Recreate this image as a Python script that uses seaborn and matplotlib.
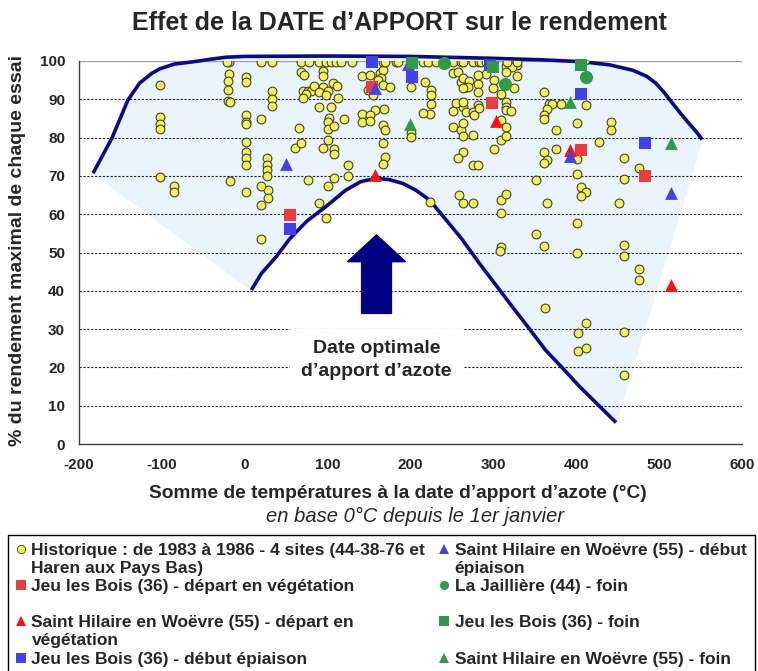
import matplotlib
matplotlib.use("Agg")
import matplotlib.pyplot as plt
from matplotlib.lines import Line2D
import numpy as np
import pandas as pd
import seaborn as sns

# --- data ---
# Historique 1983-1986 (yellow circles)
hist_x = [-102, -102, -102, -102, -102, -85, -85,
          -19, -21, -19, -20, -20, -20, -18, -18,
          1, 1, 1, 1, 1, 1, 1, 1, 1, 1,
          20, 33, 33, 33, 33, 20, 27, 27, 27, 27, 28, 28, 20, 20, 20,
          61, 66, 68, 68, 78, 68, 72, 70, 76, 80, 74, 70, 76,
          90, 98, 104, 110, 116, 94, 94, 84, 95, 107, 111, 90, 100, 98, 112,
          90, 104, 102, 100, 100, 108, 120, 100, 94, 108, 108, 125, 125, 108,
          100, 90, 98,
          130, 141, 151, 163, 167, 165, 161, 167, 175, 149, 155, 157, 168,
          167, 169, 183, 185, 141, 141, 151, 151, 167, 169, 167, 169, 167,
          201, 201, 201, 215, 221, 231, 251, 261, 263, 275, 283, 285, 291,
          217, 225, 225, 225, 223, 215, 251, 257, 261, 267, 263, 251, 267, 255,
          251, 261, 263, 263, 275, 224, 263, 257, 275, 281, 259, 263, 275,
          263, 271, 269, 281, 281, 291, 301, 299, 309, 263, 281,
          281, 275, 277, 283, 263, 315, 329, 329, 325, 323, 317, 329, 315,
          315, 315, 315, 321, 309, 315, 301, 309, 315,
          309, 315, 309, 309, 308,
          361, 367, 371, 381, 365, 361, 361, 412, 401, 375, 442, 442,
          375, 361, 365, 361, 401, 427, 458, 476,
          351, 401, 458, 406, 412, 406,
          365, 451, 401, 351, 361, 401, 458, 458, 476, 476,
          362, 412, 402, 402, 412, 458, 458, 411]
hist_y = [93.7, 85.5, 83.6, 82.2, 69.6, 67.4, 65.8,
          99.8, 99.8, 96.7, 94.7, 92.5, 89.6, 89.3, 68.7,
          95.8, 94.4, 86.0, 84.2, 83.6, 78.9, 76.3, 74.8, 72.8, 65.8,
          99.8, 99.8, 92.2, 90.1, 88.3, 84.8, 74.6, 72.8, 71.5, 70.0, 66.3, 64.1, 67.4, 62.4, 53.5,
          77.4, 82.6, 78.5, 99.8, 99.8, 97.1, 96.4, 92.1, 92.1, 92.2, 91.3, 90.3, 68.9,
          99.8, 99.8, 99.8, 99.8, 99.8, 97.3, 96.2, 93.5, 93.3, 94.3, 93.6, 91.9, 92.1, 91.0, 90.4,
          88.0, 88.0, 85.1, 84.2, 82.2, 82.9, 84.9, 79.5, 77.4, 77.0, 75.6, 72.8, 70.0, 69.5,
          67.4, 62.8, 58.9,
          99.8, 96.0, 96.3, 96.8, 97.6, 95.5, 95.0, 93.7, 93.2, 92.4, 91.0, 87.2, 87.5,
          99.8, 99.8, 99.8, 99.8, 86.1, 84.2, 86.0, 84.3, 83.3, 82.0, 78.5, 75.0, 73.1,
          93.2, 81.2, 80.1, 99.8, 99.8, 99.8, 99.8, 99.8, 99.8, 99.8, 99.8, 99.8, 99.8,
          94.4, 92.3, 91.0, 88.8, 86.2, 86.4, 96.9, 97.1, 94.5, 93.2, 88.0, 86.9, 86.7, 89.0,
          82.8, 82.0, 83.9, 80.5, 80.7, 63.3, 76.3, 74.6, 72.8, 72.8, 65.0, 62.8, 62.8,
          95.6, 94.7, 93.2, 94.1, 91.9, 96.7, 95.0, 93.0, 91.5, 93.0, 96.3,
          88.4, 86.7, 85.8, 87.6, 89.3, 98.7, 98.9, 96.1, 93.0, 98.5, 99.8, 99.8, 97.0,
          89.3, 88.0, 87.1, 86.9, 84.6, 82.7, 77.0, 79.4, 80.4,
          63.7, 65.3, 60.2, 51.5, 50.5,
          92.0, 88.9, 88.9, 88.9, 87.4, 86.0, 84.8, 88.4, 83.9, 82.0, 84.0, 82.0,
          77.0, 76.3, 74.2, 73.3, 74.3, 78.9, 74.8, 72.0,
          68.9, 70.4, 69.1, 67.0, 65.9, 64.8,
          62.8, 62.8, 57.8, 54.8, 51.6, 49.8, 52.0, 49.1, 45.8, 42.8,
          35.6, 31.5, 29.1, 24.4, 25.0, 29.2, 18.0, 100.2]

# Jeu les Bois (36) - depart en vegetation
jeu_dep_x = [54, 154, 298, 406, 483]
jeu_dep_y = [59.8, 93.2, 89.0, 76.8, 70.0]
# Saint Hilaire en Woevre (55) - depart en vegetation
sh_dep_x = [157, 303, 392, 514]
sh_dep_y = [70.2, 84.3, 76.8, 41.5]
# Jeu les Bois (36) - debut epiaison
jeu_epi_x = [54, 154, 202, 296, 406, 483]
jeu_epi_y = [56.1, 99.7, 95.8, 99.0, 91.4, 78.7]
# Saint Hilaire en Woevre (55) - debut epiaison
sh_epi_x = [50, 157, 197, 392, 514]
sh_epi_y = [73.1, 93.0, 99.3, 75.2, 65.6]
# La Jailliere (44) - foin
jail_x = [240, 314, 412]
jail_y = [99.5, 93.9, 95.7]
# Jeu les Bois (36) - foin
jeu_foin_x = [202, 300, 406]
jeu_foin_y = [99.5, 98.4, 99.0]
# Saint Hilaire en Woevre (55) - foin
sh_foin_x = [199, 392, 514]
sh_foin_y = [83.5, 89.2, 78.5]

# envelope curves
outer_x = [-183, -160, -141, -127, -112, -102, -85, -62, -40, -22, 0, 100, 200,
           300, 360, 408, 440, 468, 485, 496, 506, 516, 526, 536, 545, 552]
outer_y = [70.7, 80.0, 89.8, 94.2, 96.8, 98.0, 99.2, 99.8, 100.5, 101.0, 101.2,
           101.3, 101.2, 100.7, 100.3, 99.8, 99.0, 97.6, 96.0, 94.2, 91.8, 89.0,
           86.3, 83.7, 81.5, 79.5]
inner_x = [8, 20, 38, 54, 75, 98, 122, 140, 159, 175, 191, 207, 223, 243, 262,
           283, 303, 323, 343, 363, 384, 404, 426, 448]
inner_y = [40.2, 44.5, 48.9, 53.5, 58.2, 62.0, 66.3, 68.5, 69.4, 69.0, 68.0, 66.2,
           63.7, 58.5, 53.5, 47.2, 41.5, 35.8, 30.2, 24.5, 19.7, 15.0, 10.3, 5.6]

x_ticks = [-200, -100, 0, 100, 200, 300, 400, 500, 600]
y_ticks = [0, 10, 20, 30, 40, 50, 60, 70, 80, 90, 100]

NAVY = "#0a0a8c"
YELLOW = "#f4f44c"

sns.set_theme(style="white")
plt.rcParams["font.family"] = ["Liberation Sans", "DejaVu Sans"]
plt.rcParams["axes.unicode_minus"] = False

fig = plt.figure(figsize=(7.58, 6.71), dpi=100)
ax = fig.add_axes([79 / 758, 1 - 444 / 671, (742 - 79) / 758, (444 - 61) / 671])

# light blue envelope area
poly_x = outer_x + inner_x[::-1]
poly_y = outer_y + inner_y[::-1]
ax.fill(poly_x, poly_y, color="#eaf4fc", zorder=0, clip_on=False)

# grid
for yv in y_ticks[1:-1]:
    ax.axhline(yv, color="#222222", lw=0.8, ls=(0, (2, 1.5)), zorder=0.5)
ax.axhline(100, color="#a0a0a0", lw=1.0, zorder=0.5)

# curves
ax.plot(outer_x, outer_y, color=NAVY, lw=2.6, clip_on=False, zorder=3,
        solid_capstyle="butt")
ax.plot(inner_x, inner_y, color=NAVY, lw=2.6, zorder=3, solid_capstyle="butt")

# points
sns.scatterplot(x=hist_x, y=hist_y, ax=ax, color=YELLOW, edgecolor="#404040",
                linewidth=0.8, s=40, marker="o", zorder=4, legend=False)
series = [
    (jeu_dep_x, jeu_dep_y, "s", "#ee3b3b", 72),
    (sh_dep_x, sh_dep_y, "^", "#ff1010", 85),
    (jeu_epi_x, jeu_epi_y, "s", "#4040ee", 72),
    (sh_epi_x, sh_epi_y, "^", "#4040ee", 85),
    (jail_x, jail_y, "o", "#2f9a48", 90),
    (jeu_foin_x, jeu_foin_y, "s", "#2f9a48", 72),
    (sh_foin_x, sh_foin_y, "^", "#2f9a48", 85),
]
for xs, ys, mk, col, sz in series:
    sns.scatterplot(x=xs, y=ys, ax=ax, color=col, marker=mk, s=sz, linewidth=0,
                    zorder=5, legend=False, clip_on=False)

# arrow + annotation
ax.arrow(159, 34.1, 0, 20.5, width=36, head_width=70, head_length=7,
         length_includes_head=True, color="#000080", zorder=6)
ax.text(159, 21.9, "Date optimale\nd\u2019apport d\u2019azote", ha="center",
        va="center", fontsize=14, fontweight="bold", linespacing=1.45,
        bbox=dict(facecolor="white", edgecolor="none", pad=8), zorder=6)

# axes
ax.set_xlim(-200, 600)
ax.set_ylim(0, 100)
ax.set_xticks(x_ticks)
ax.set_yticks(y_ticks)
ax.tick_params(axis="both", direction="out", length=6, width=1, color="#404040",
               labelsize=11, pad=4)
for lab in ax.get_xticklabels() + ax.get_yticklabels():
    lab.set_fontweight("bold")
sns.despine(ax=ax)
for sp in ["left", "bottom"]:
    ax.spines[sp].set_color("#404040")
    ax.spines[sp].set_linewidth(1)
ax.set_facecolor("white")

ax.set_xlabel("Somme de températures à la date d\u2019apport d\u2019azote (°C)",
              fontsize=13.8, fontweight="bold")
ax.xaxis.set_label_coords((398 - 79) / 663, -(494 - 444) / 383)
ax.xaxis.label.set_va("center")
ax.set_ylabel("% du rendement maximal de chaque essai", fontsize=14,
              fontweight="bold")
ax.yaxis.set_label_coords(-(79 - 18) / 663, (444 - 251) / 383)
ax.yaxis.label.set_va("center")
ax.text((415 - 79) / 663, -(516 - 444) / 383, "en base 0°C depuis le 1er janvier",
        transform=ax.transAxes, ha="center", va="center", fontsize=14.5,
        style="italic")

fig.text(399 / 758, 1 - 23 / 671, "Effet de la DATE d\u2019APPORT sur le rendement",
         ha="center", va="center", fontsize=18, fontweight="bold")

# legend (two columns, blank rows keep both columns aligned)
def handle(mk, col, ms):
    edge = "#404040" if col == YELLOW else col
    return Line2D([], [], marker=mk, color=col, markeredgecolor=edge,
                  markeredgewidth=0.6 if col == YELLOW else 0, ms=ms, ls="none")

blank = Line2D([], [], ls="none", marker="")
entries = [
    (handle("o", YELLOW, 6), "Historique : de 1983 à 1986 - 4 sites (44-38-76 et"),
    (blank, "Haren aux Pays Bas)"),
    (handle("s", "#ee3b3b", 6.5), "Jeu les Bois (36) - départ en végétation"),
    (blank, " "),
    (handle("^", "#ff1010", 7), "Saint Hilaire en Woëvre (55) - départ en"),
    (blank, "végétation"),
    (handle("s", "#4040ee", 6.5), "Jeu les Bois (36) - début épiaison"),
    (blank, " "),
    (handle("^", "#4040ee", 7), "Saint Hilaire en Woëvre (55) - début"),
    (blank, "épiaison"),
    (handle("o", "#2f9a48", 6.5), "La Jaillière (44) - foin"),
    (blank, " "),
    (handle("s", "#2f9a48", 6.5), "Jeu les Bois (36) - foin"),
    (blank, " "),
    (handle("^", "#2f9a48", 7), "Saint Hilaire en Woëvre (55) - foin"),
    (blank, " "),
]
leg = fig.legend([e[0] for e in entries], [e[1] for e in entries], ncol=2,
                 loc="upper left", bbox_to_anchor=(8 / 758, 1 - 535 / 671),
                 frameon=True, fancybox=False, edgecolor="black", framealpha=1,
                 prop={"family": ["Liberation Sans"], "weight": "bold", "size": 12.5},
                 handlelength=0.6, handletextpad=0.3, labelspacing=0.17,
                 columnspacing=0.8, borderpad=0.45, borderaxespad=0)
leg.get_frame().set_linewidth(1)

fig.savefig("out.png", dpi=100)
